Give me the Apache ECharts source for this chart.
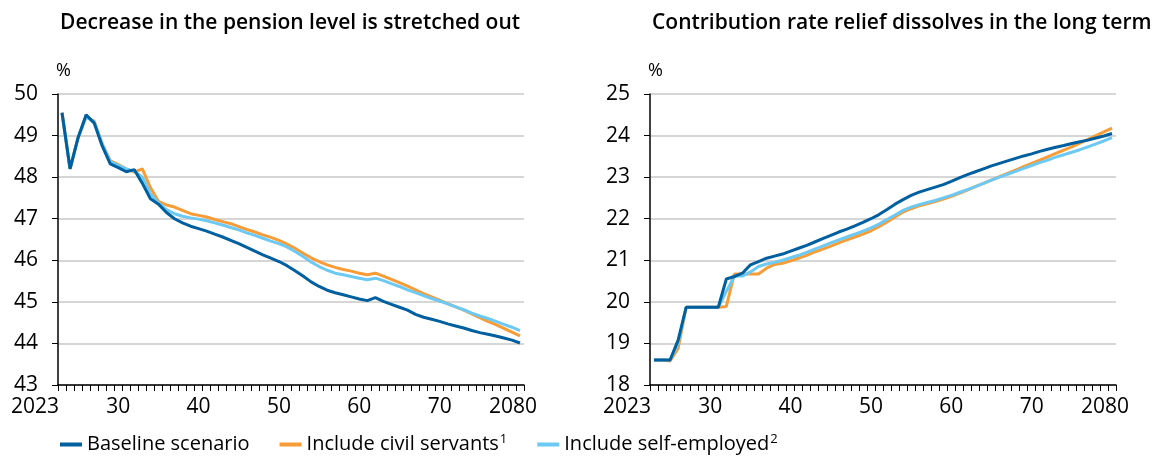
<!DOCTYPE html>
<html>
<head>
<meta charset="utf-8">
<script src="https://cdn.jsdelivr.net/npm/echarts@6/dist/echarts.min.js"></script>
<style>
  html, body { margin: 0; padding: 0; background: #fff; }
  #chart { width: 1157px; height: 457px; }
</style>
</head>
<body>
<div id="chart"></div>
<script>
// Years on the horizontal axis
const years = [];
for (let y = 2023; y <= 2080; y++) years.push(String(y));

// Labelled years and the text shown under them
const tickYears = ['2023', '2030', '2040', '2050', '2060', '2070', '2080'];
const tickText  = ['2023', '30', '40', '50', '60', '70', '2080'];

// Series names
const seriesNames = ['Baseline scenario', 'Include civil servants', 'Include self-employed'];
const seriesSup = ['', '1', '2'];

// Pension level, % (left panel)
const pensionBaseline = [
  49.55, 48.2, 48.95, 49.5, 49.3, 48.75, 48.32, 48.23, 48.13, 48.18,
  47.85, 47.48, 47.35, 47.15, 47.0, 46.9, 46.82, 46.76, 46.7, 46.63,
  46.56, 46.48, 46.4, 46.31, 46.22, 46.13, 46.05, 45.97, 45.87, 45.75,
  45.62, 45.48, 45.37, 45.28, 45.22, 45.17, 45.12, 45.07, 45.03, 45.1,
  45.01, 44.94, 44.87, 44.8, 44.7, 44.63, 44.58, 44.53, 44.47, 44.42,
  44.37, 44.31, 44.26, 44.22, 44.18, 44.13, 44.08, 44.01
];
const pensionCivil = [
  49.55, 48.2, 48.95, 49.45, 49.35, 48.8, 48.4, 48.3, 48.2, 48.12,
  48.2, 47.75, 47.42, 47.33, 47.28, 47.2, 47.12, 47.08, 47.04, 46.98,
  46.93, 46.88, 46.81, 46.74, 46.68, 46.61, 46.55, 46.48, 46.39, 46.29,
  46.17, 46.06, 45.97, 45.89, 45.83, 45.78, 45.74, 45.69, 45.65, 45.69,
  45.62, 45.54, 45.46, 45.38, 45.29, 45.2, 45.12, 45.04, 44.96, 44.88,
  44.8, 44.71, 44.62, 44.53, 44.45, 44.36, 44.27, 44.18
];
const pensionSelf = [
  49.55, 48.2, 48.95, 49.45, 49.33, 48.8, 48.38, 48.28, 48.2, 48.14,
  48.0, 47.6, 47.38, 47.22, 47.12, 47.06, 47.02, 46.99, 46.95, 46.9,
  46.85, 46.79, 46.73, 46.66, 46.6, 46.53, 46.46, 46.4, 46.32, 46.21,
  46.09, 45.96, 45.85, 45.76, 45.69, 45.65, 45.61, 45.57, 45.53, 45.57,
  45.51, 45.44, 45.37, 45.29, 45.22, 45.15, 45.08, 45.02, 44.95, 44.88,
  44.81, 44.73, 44.66, 44.6, 44.53, 44.46, 44.39, 44.31
];

// Contribution rate, % (right panel)
const rateBaseline = [
  18.6, 18.6, 18.6, 19.08, 19.87, 19.87, 19.87, 19.87, 19.87, 20.55,
  20.61, 20.69, 20.89, 20.97, 21.05, 21.1, 21.15, 21.22, 21.29, 21.36,
  21.44, 21.52, 21.6, 21.68, 21.75, 21.83, 21.91, 22.0, 22.1, 22.22,
  22.35, 22.46, 22.56, 22.64, 22.7, 22.76, 22.82, 22.9, 22.98, 23.06,
  23.13, 23.2, 23.27, 23.33, 23.39, 23.45, 23.51, 23.56, 23.62, 23.67,
  23.72, 23.76, 23.81, 23.85, 23.89, 23.94, 23.99, 24.05
];
const rateCivil = [
  18.6, 18.6, 18.58, 18.88, 19.87, 19.87, 19.87, 19.87, 19.87, 19.89,
  20.67, 20.67, 20.67, 20.67, 20.81, 20.9, 20.93, 20.99, 21.05, 21.12,
  21.2, 21.27, 21.34, 21.42, 21.49, 21.56, 21.63, 21.71, 21.81, 21.92,
  22.04, 22.16, 22.24, 22.31, 22.36, 22.41, 22.47, 22.54, 22.61, 22.69,
  22.77, 22.85, 22.93, 23.01, 23.09, 23.17, 23.25, 23.33, 23.41, 23.49,
  23.57, 23.65, 23.73, 23.82, 23.91, 24.0, 24.09, 24.18
];
const rateSelf = [
  18.6, 18.6, 18.6, 19.0, 19.87, 19.87, 19.87, 19.87, 19.87, 20.25,
  20.62, 20.62, 20.72, 20.85, 20.91, 20.95, 21.0, 21.06, 21.12, 21.19,
  21.27, 21.34, 21.42, 21.49, 21.56, 21.63, 21.7, 21.78, 21.87, 21.98,
  22.09, 22.2, 22.28, 22.34, 22.39, 22.44, 22.5, 22.56, 22.63, 22.7,
  22.77, 22.85, 22.93, 23.0, 23.07, 23.14, 23.21, 23.28, 23.35, 23.41,
  23.48, 23.54, 23.6, 23.66, 23.73, 23.8, 23.87, 23.95
];

// Panel titles
const titles = [
  'Decrease in the pension level is stretched out',
  'Contribution rate relief dissolves in the long term'
];

const colors = ['#00609f', '#f89c38', '#6cc9f3'];
const FONT = '"Open Sans", "Liberation Sans", Arial, sans-serif';

function xAxisFor(gridIndex) {
  return {
    type: 'category',
    gridIndex,
    data: years,
    boundaryGap: true,
    axisLine: { lineStyle: { color: '#000', width: 1.5 } },
    axisTick: { show: true, interval: 0, length: 6, lineStyle: { color: '#000', width: 1 } },
    axisLabel: {
      interval: (idx, val) => tickYears.indexOf(val) >= 0,
      formatter: (val) => {
        const i = tickYears.indexOf(val);
        if (i < 0) return '';
        if (i === 0) return '{first|' + tickText[i] + '}';
        if (i === tickText.length - 1) return '{last|' + tickText[i] + '}';
        return tickText[i];
      },
      color: '#000',
      fontFamily: FONT,
      fontSize: 21,
      margin: 12,
      rich: {
        first: { fontFamily: FONT, fontSize: 21, color: '#000', padding: [0, 54, 0, 0] },
        last: { fontFamily: FONT, fontSize: 21, color: '#000', padding: [0, 14, 0, 0] }
      }
    },
    splitLine: { show: false }
  };
}

function yAxisFor(gridIndex, min, max) {
  return {
    type: 'value',
    gridIndex,
    min, max, interval: 1,
    name: '%',
    nameLocation: 'end',
    nameGap: 14,
    nameTextStyle: { color: '#000', fontFamily: FONT, fontSize: 18, align: 'left', padding: [0, 0, 0, -2] },
    axisLine: { show: true, lineStyle: { color: '#000', width: 1.5 } },
    axisTick: { show: true, length: 6, lineStyle: { color: '#000', width: 1 } },
    axisLabel: { color: '#000', fontFamily: FONT, fontSize: 21, margin: 20 },
    splitLine: { lineStyle: { color: '#c8c8c8', width: 1.5 } }
  };
}

function lineSeries(name, data, idx, axisIdx) {
  return {
    name,
    type: 'line',
    xAxisIndex: axisIdx,
    yAxisIndex: axisIdx,
    data,
    symbol: 'none',
    smooth: false,
    lineStyle: { color: colors[idx], width: 3 },
    itemStyle: { color: colors[idx] },
    z: idx === 0 ? 5 : (idx === 2 ? 4 : 3)
  };
}

const chart = echarts.init(document.getElementById('chart'), null, { renderer: 'canvas' });

chart.setOption({
  animation: false,
  backgroundColor: '#fff',
  title: [
    { text: titles[0], left: 55, top: 8, textStyle: { fontFamily: FONT, fontSize: 21, fontWeight: 600, color: '#000' } },
    { text: titles[1], left: 647, top: 8, textStyle: { fontFamily: FONT, fontSize: 21, fontWeight: 600, color: '#000' } }
  ],
  grid: [
    { left: 58, top: 94, width: 466, height: 291, containLabel: false },
    { left: 650, top: 94, width: 466, height: 291, containLabel: false }
  ],
  xAxis: [xAxisFor(0), xAxisFor(1)],
  yAxis: [yAxisFor(0, 43, 50), yAxisFor(1, 18, 25)],
  legend: {
    data: seriesNames,
    left: 55,
    top: 428,
    itemGap: 30,
    itemWidth: 22,
    itemHeight: 4,
    icon: 'rect',
    formatter: (name) => {
      const i = seriesNames.indexOf(name);
      return seriesSup[i] ? name + '{sup|' + seriesSup[i] + '}' : name;
    },
    textStyle: {
      fontFamily: FONT,
      fontSize: 20,
      color: '#000',
      rich: {
        sup: { fontFamily: FONT, fontSize: 13, verticalAlign: 'top', padding: [0, 0, 10, 1], color: '#000' }
      }
    }
  },
  series: [
    lineSeries(seriesNames[1], pensionCivil, 1, 0),
    lineSeries(seriesNames[2], pensionSelf, 2, 0),
    lineSeries(seriesNames[0], pensionBaseline, 0, 0),
    lineSeries(seriesNames[1], rateCivil, 1, 1),
    lineSeries(seriesNames[2], rateSelf, 2, 1),
    lineSeries(seriesNames[0], rateBaseline, 0, 1)
  ]
});
</script>
</body>
</html>
